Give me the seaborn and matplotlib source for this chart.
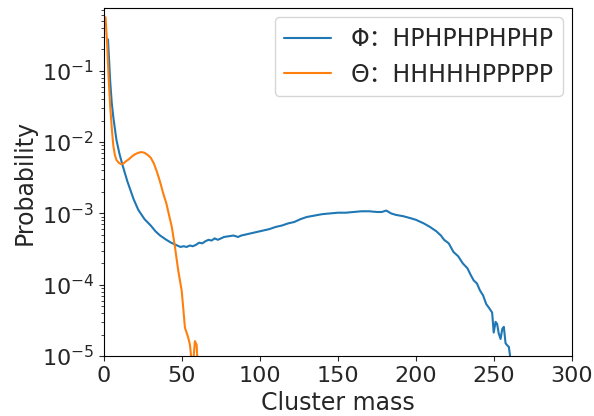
import numpy as np
import pandas as pd
import matplotlib
matplotlib.use("Agg")
import matplotlib.pyplot as plt
import seaborn as sns

# ---- data (values stored as log10 probability) ----
phi_label = "Φ：HPHPHPHPHP"
theta_label = "Θ：HHHHHPPPPP"

phi_mass = [2.6, 4, 5, 6, 8, 10, 12, 15, 19, 22, 26, 30, 33, 36, 40, 43, 46, 49, 51, 53,
            55, 57, 59, 61, 63, 65, 67, 69, 71, 73, 75, 77, 80, 83, 86, 88, 90, 94, 98,
            102, 106, 110, 114, 118, 122, 126, 130, 135, 140, 145, 150, 155, 160, 165,
            170, 175, 178, 181, 184, 187, 192, 197, 200, 205, 209, 213, 216, 218, 221,
            224, 227, 230, 233, 235, 237, 239, 241, 243, 245, 247, 248.8, 249.8, 251,
            252, 253, 254.2, 255.3, 256.3, 257.4, 258.5, 259.5, 260.6]
phi_log10p = [-0.56, -1.15, -1.45, -1.65, -1.97, -2.17, -2.33, -2.55, -2.80, -2.95,
              -3.08, -3.17, -3.25, -3.31, -3.37, -3.41, -3.44, -3.47, -3.46, -3.47,
              -3.45, -3.46, -3.44, -3.41, -3.42, -3.39, -3.37, -3.38, -3.35, -3.37,
              -3.35, -3.33, -3.32, -3.31, -3.33, -3.31, -3.30, -3.28, -3.26, -3.24,
              -3.22, -3.19, -3.17, -3.14, -3.12, -3.08, -3.05, -3.03, -3.01, -3.00,
              -2.99, -2.99, -2.98, -2.97, -2.97, -2.98, -2.98, -2.96, -3.00, -3.02,
              -3.04, -3.07, -3.09, -3.14, -3.19, -3.25, -3.31, -3.37, -3.42, -3.54,
              -3.60, -3.70, -3.77, -3.86, -3.94, -3.98, -4.08, -4.15, -4.27, -4.33,
              -4.39, -4.67, -4.52, -4.55, -4.68, -4.76, -4.62, -4.59, -4.82, -4.85,
              -4.87, -5.05]

theta_mass = [1, 2, 3, 4, 5, 6, 7, 8, 9.5, 11, 12.5, 14, 16, 18, 20, 22, 24, 26, 28,
              30, 32, 34, 36, 38, 40, 42, 43.5, 45.5, 47.6, 49.8, 50.8, 51.9, 54, 55.1,
              56.8, 58.3, 59.4, 60.4]
theta_log10p = [-0.25, -0.60, -1.10, -1.50, -1.80, -2.05, -2.18, -2.25, -2.29, -2.31,
                -2.30, -2.27, -2.24, -2.20, -2.17, -2.15, -2.14, -2.15, -2.18, -2.22,
                -2.30, -2.42, -2.56, -2.72, -2.86, -3.05, -3.19, -3.47, -3.80, -4.08,
                -4.32, -4.60, -4.74, -4.84, -5.20, -4.79, -4.84, -5.30]

df = pd.concat([
    pd.DataFrame({"Cluster mass": phi_mass, "Probability": np.power(10.0, phi_log10p), "series": phi_label}),
    pd.DataFrame({"Cluster mass": theta_mass, "Probability": np.power(10.0, theta_log10p), "series": theta_label}),
])

sns.set_style("ticks")
plt.rcParams["font.family"] = ["DejaVu Sans", "Noto Sans CJK SC"]

fig = plt.figure(figsize=(5.94, 4.16), dpi=100)
ax = fig.add_axes([0.175, 0.144, 0.788, 0.837])

sns.lineplot(data=df, x="Cluster mass", y="Probability", hue="series",
             palette=["#1f77b4", "#ff7f0e"], linewidth=1.5, ax=ax, legend=True)

ax.set_yscale("log")
ax.set_xlim(0, 300)
ax.set_ylim(1e-5, 0.76)
ax.set_xticks([0, 50, 100, 150, 200, 250, 300])
ax.tick_params(axis="both", labelsize=16, direction="out")
ax.set_xlabel("Cluster mass", fontsize=17)
ax.set_ylabel("Probability", fontsize=17)
for s in ax.spines.values():
    s.set_visible(True)
    s.set_color("black")

handles, labels = ax.get_legend_handles_labels()
ax.legend(handles, labels, loc="upper right", fontsize=17, frameon=True,
          borderaxespad=0.4)

fig.savefig("out.png", dpi=100)
